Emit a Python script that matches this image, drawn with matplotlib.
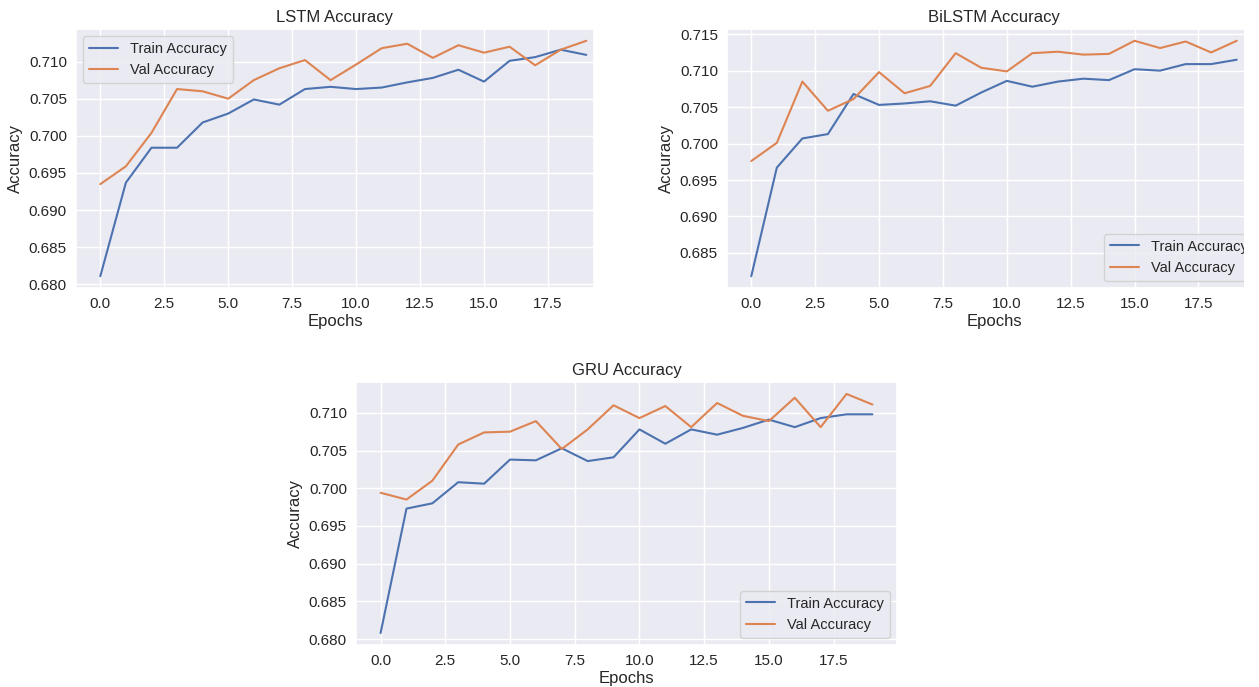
import matplotlib
matplotlib.use('Agg')
import matplotlib.pyplot as plt
import seaborn as sns
from matplotlib.patches import Rectangle

epochs = list(range(20))

lstm_train = [0.6811, 0.6937, 0.6984, 0.6984, 0.7018, 0.7030, 0.7049, 0.7042, 0.7063, 0.7066,
              0.7063, 0.7065, 0.7072, 0.7078, 0.7089, 0.7073, 0.7101, 0.7106, 0.7116, 0.7109]
lstm_val = [0.6935, 0.6959, 0.7004, 0.7063, 0.7060, 0.7050, 0.7075, 0.7091, 0.7102, 0.7075,
            0.7096, 0.7118, 0.7124, 0.7105, 0.7122, 0.7112, 0.7120, 0.7095, 0.7116, 0.7128]

bilstm_train = [0.6818, 0.6967, 0.7007, 0.7013, 0.7068, 0.7053, 0.7055, 0.7058, 0.7052, 0.7070,
                0.7086, 0.7078, 0.7085, 0.7089, 0.7087, 0.7102, 0.7100, 0.7109, 0.7109, 0.7115]
bilstm_val = [0.6976, 0.7001, 0.7085, 0.7045, 0.7061, 0.7098, 0.7069, 0.7079, 0.7124, 0.7104,
              0.7099, 0.7124, 0.7126, 0.7122, 0.7123, 0.7141, 0.7131, 0.7140, 0.7125, 0.7141]

gru_train = [0.6808, 0.6973, 0.6980, 0.7008, 0.7006, 0.7038, 0.7037, 0.7053, 0.7036, 0.7041,
             0.7078, 0.7059, 0.7078, 0.7071, 0.7080, 0.7091, 0.7081, 0.7093, 0.7098, 0.7098]
gru_val = [0.6994, 0.6985, 0.7010, 0.7058, 0.7074, 0.7075, 0.7089, 0.7052, 0.7078, 0.7110,
           0.7093, 0.7109, 0.7081, 0.7113, 0.7096, 0.7089, 0.7120, 0.7081, 0.7125, 0.7111]

sns.set_theme(style='darkgrid')
plt.rcParams['font.family'] = ['Liberation Sans', 'DejaVu Sans']
plt.rcParams['xtick.major.size'] = 0
plt.rcParams['ytick.major.size'] = 0
plt.rcParams['xtick.major.pad'] = 6.5
plt.rcParams['ytick.major.pad'] = 6.5
plt.rcParams['legend.fontsize'] = 10.5

W, H = 1259, 687
fig = plt.figure(figsize=(W / 100, H / 100), dpi=100)


def px_axes(left, top, right, bottom):
    return fig.add_axes([left / W, 1 - bottom / H, (right - left) / W, (bottom - top) / H])


def draw(ax, train, val, title, loc):
    ax.plot(epochs, train, label='Train Accuracy')
    ax.plot(epochs, val, label='Val Accuracy')
    ax.set_title(title, pad=5)
    ax.set_xlabel('Epochs', labelpad=2)
    ax.set_ylabel('Accuracy', labelpad=4)
    ax.legend(loc=loc)


ax1 = px_axes(76, 29, 594, 288)
draw(ax1, lstm_train, lstm_val, 'LSTM Accuracy', 'upper left')
ax1.set_xlim(-0.95, 19.3)

ax2 = px_axes(727, 29, 1261, 288)
draw(ax2, bilstm_train, bilstm_val, 'BiLSTM Accuracy', 'lower right')
ax2.set_xlim(-0.95, 19.95)

ax3 = px_axes(356, 382, 897, 645)
draw(ax3, gru_train, gru_val, 'GRU Accuracy', 'lower right')

# trim the right edge of the figure
fig.add_artist(Rectangle((1244 / W, 0), 1, 1, transform=fig.transFigure,
                         facecolor='white', edgecolor='none', zorder=10))

fig.savefig('out.png', dpi=100)
